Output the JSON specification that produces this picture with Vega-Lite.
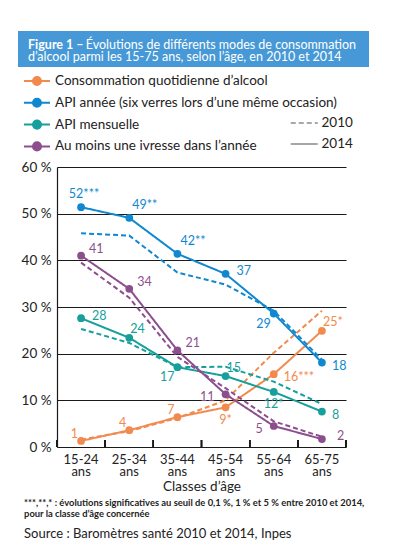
{
  "$schema": "https://vega.github.io/schema/vega-lite/v6.json",
  "background": "white",
  "padding": {"left": 18, "top": 31, "right": 0, "bottom": 0},
  "spacing": 93,
  "config": {
    "font": "Lato",
    "view": {"stroke": null}
  },
  "vconcat": [
    {
      "width": 351,
      "height": 36,
      "view": {"fill": "#4699d6", "stroke": null},
      "data": {"values": []},
      "mark": {"type": "point", "opacity": 0},
      "encoding": {},
      "title": {
        "text": "Figure 1 –",
        "subtitle": [
          "\u200b\u2003\u2003\u2003\u2003\u2003\u2003\u2009Évolutions de différents modes de consommation",
          "d’alcool parmi les 15-75 ans, selon l’âge, en 2010 et 2014"
        ],
        "orient": "top",
        "anchor": "start",
        "frame": "group",
        "offset": -32.5,
        "dx": 10,
        "color": "white",
        "fontSize": 12.5,
        "fontWeight": "bold",
        "subtitleColor": "white",
        "subtitleFontSize": 12.5,
        "subtitleFontWeight": "normal",
        "subtitleLineHeight": 12.5,
        "subtitlePadding": -12.5
      }
    },
    {
      "spacing": 2,
      "hconcat": [
        {
          "width": 1,
          "height": 280,
          "data": {"values": []},
          "mark": {"type": "point", "opacity": 0},
          "encoding": {}
        },
        {
          "width": 289,
          "height": 280,
          "data": {
            "values": [
              {"age": "15-24 ans", "serie": "Consommation quotidienne d’alcool", "annee": "2010", "valeur": 1.6},
              {"age": "25-34 ans", "serie": "Consommation quotidienne d’alcool", "annee": "2010", "valeur": 3.4},
              {"age": "35-44 ans", "serie": "Consommation quotidienne d’alcool", "annee": "2010", "valeur": 6.2},
              {"age": "45-54 ans", "serie": "Consommation quotidienne d’alcool", "annee": "2010", "valeur": 10.0},
              {"age": "55-64 ans", "serie": "Consommation quotidienne d’alcool", "annee": "2010", "valeur": 20.2},
              {"age": "65-75 ans", "serie": "Consommation quotidienne d’alcool", "annee": "2010", "valeur": 29.2},
              {"age": "15-24 ans", "serie": "Consommation quotidienne d’alcool", "annee": "2014", "valeur": 1.3, "label": "1"},
              {"age": "25-34 ans", "serie": "Consommation quotidienne d’alcool", "annee": "2014", "valeur": 3.6, "label": "4"},
              {"age": "35-44 ans", "serie": "Consommation quotidienne d’alcool", "annee": "2014", "valeur": 6.4, "label": "7"},
              {"age": "45-54 ans", "serie": "Consommation quotidienne d’alcool", "annee": "2014", "valeur": 8.5, "label": "9*"},
              {"age": "55-64 ans", "serie": "Consommation quotidienne d’alcool", "annee": "2014", "valeur": 15.6, "label": "16***"},
              {"age": "65-75 ans", "serie": "Consommation quotidienne d’alcool", "annee": "2014", "valeur": 24.9, "label": "25*"},
              {"age": "15-24 ans", "serie": "API année (six verres lors d’une même occasion)", "annee": "2010", "valeur": 45.8},
              {"age": "25-34 ans", "serie": "API année (six verres lors d’une même occasion)", "annee": "2010", "valeur": 45.3},
              {"age": "35-44 ans", "serie": "API année (six verres lors d’une même occasion)", "annee": "2010", "valeur": 37.4},
              {"age": "45-54 ans", "serie": "API année (six verres lors d’une même occasion)", "annee": "2010", "valeur": 34.8},
              {"age": "55-64 ans", "serie": "API année (six verres lors d’une même occasion)", "annee": "2010", "valeur": 29.2},
              {"age": "65-75 ans", "serie": "API année (six verres lors d’une même occasion)", "annee": "2010", "valeur": 18.7},
              {"age": "15-24 ans", "serie": "API année (six verres lors d’une même occasion)", "annee": "2014", "valeur": 51.4, "label": "52***"},
              {"age": "25-34 ans", "serie": "API année (six verres lors d’une même occasion)", "annee": "2014", "valeur": 49.1, "label": "49**"},
              {"age": "35-44 ans", "serie": "API année (six verres lors d’une même occasion)", "annee": "2014", "valeur": 41.4, "label": "42**"},
              {"age": "45-54 ans", "serie": "API année (six verres lors d’une même occasion)", "annee": "2014", "valeur": 37.1, "label": "37"},
              {"age": "55-64 ans", "serie": "API année (six verres lors d’une même occasion)", "annee": "2014", "valeur": 28.6, "label": "29"},
              {"age": "65-75 ans", "serie": "API année (six verres lors d’une même occasion)", "annee": "2014", "valeur": 18.1, "label": "18"},
              {"age": "15-24 ans", "serie": "API mensuelle", "annee": "2010", "valeur": 25.3},
              {"age": "25-34 ans", "serie": "API mensuelle", "annee": "2010", "valeur": 22.3},
              {"age": "35-44 ans", "serie": "API mensuelle", "annee": "2010", "valeur": 17.1},
              {"age": "45-54 ans", "serie": "API mensuelle", "annee": "2010", "valeur": 17.2},
              {"age": "55-64 ans", "serie": "API mensuelle", "annee": "2010", "valeur": 14.0},
              {"age": "65-75 ans", "serie": "API mensuelle", "annee": "2010", "valeur": 9.2},
              {"age": "15-24 ans", "serie": "API mensuelle", "annee": "2014", "valeur": 27.6, "label": "28"},
              {"age": "25-34 ans", "serie": "API mensuelle", "annee": "2014", "valeur": 23.4, "label": "24"},
              {"age": "35-44 ans", "serie": "API mensuelle", "annee": "2014", "valeur": 17.1, "label": "17"},
              {"age": "45-54 ans", "serie": "API mensuelle", "annee": "2014", "valeur": 15.2, "label": "15"},
              {"age": "55-64 ans", "serie": "API mensuelle", "annee": "2014", "valeur": 11.8, "label": "12*"},
              {"age": "65-75 ans", "serie": "API mensuelle", "annee": "2014", "valeur": 7.6, "label": "8"},
              {"age": "15-24 ans", "serie": "Au moins une ivresse dans l’année", "annee": "2010", "valeur": 39.5},
              {"age": "25-34 ans", "serie": "Au moins une ivresse dans l’année", "annee": "2010", "valeur": 32.0},
              {"age": "35-44 ans", "serie": "Au moins une ivresse dans l’année", "annee": "2010", "valeur": 19.3},
              {"age": "45-54 ans", "serie": "Au moins une ivresse dans l’année", "annee": "2010", "valeur": 12.6},
              {"age": "55-64 ans", "serie": "Au moins une ivresse dans l’année", "annee": "2010", "valeur": 5.5},
              {"age": "65-75 ans", "serie": "Au moins une ivresse dans l’année", "annee": "2010", "valeur": 2.2},
              {"age": "15-24 ans", "serie": "Au moins une ivresse dans l’année", "annee": "2014", "valeur": 41.0, "label": "41"},
              {"age": "25-34 ans", "serie": "Au moins une ivresse dans l’année", "annee": "2014", "valeur": 33.9, "label": "34"},
              {"age": "35-44 ans", "serie": "Au moins une ivresse dans l’année", "annee": "2014", "valeur": 20.7, "label": "21"},
              {"age": "45-54 ans", "serie": "Au moins une ivresse dans l’année", "annee": "2014", "valeur": 11.3, "label": "11"},
              {"age": "55-64 ans", "serie": "Au moins une ivresse dans l’année", "annee": "2014", "valeur": 4.5, "label": "5"},
              {"age": "65-75 ans", "serie": "Au moins une ivresse dans l’année", "annee": "2014", "valeur": 1.7, "label": "2"}
            ]
          },
          "title": {
            "text": [
              "***,**,* : évolutions significatives au seuil de 0,1 %, 1 % et 5 % entre 2010 et 2014,",
              "pour la classe d’âge concernée"
            ],
            "subtitle": "Source : Baromètres santé 2010 et 2014, Inpes",
            "orient": "bottom",
            "anchor": "start",
            "frame": "bounds",
            "offset": 6,
            "dx": 3,
            "font": "Lato",
            "fontSize": 9.4,
            "fontWeight": "bold",
            "lineHeight": 10.5,
            "color": "#222222",
            "subtitleFont": "Lato",
            "subtitleFontSize": 13,
            "subtitleColor": "#222222",
            "subtitlePadding": 9
          },
          "encoding": {
            "x": {
              "field": "age",
              "type": "nominal",
              "sort": null,
              "scale": {"type": "band", "paddingInner": 0, "paddingOuter": 0},
              "axis": {
                "title": "Classes d’âge",
                "titleFontSize": 13.5,
                "titleFontWeight": "normal",
                "titleColor": "#222222",
                "titlePadding": 1,
                "labelExpr": "split(datum.label, ' ')",
                "labelAngle": 0,
                "labelFontSize": 13,
                "labelLineHeight": 12.5,
                "labelColor": "#222222",
                "labelPadding": 6,
                "ticks": false,
                "tickSize": 0,
                "domainColor": "#1a1a1a",
                "domainWidth": 1.2,
                "grid": false
              }
            },
            "y": {
              "field": "valeur",
              "type": "quantitative",
              "scale": {"domain": [0, 60], "nice": false},
              "axis": {
                "title": null,
                "values": [0, 10, 20, 30, 40, 50, 60],
                "labelExpr": "datum.value + ' %'",
                "labelFontSize": 13.5,
                "labelColor": "#222222",
                "labelPadding": 6,
                "ticks": false,
                "domainColor": "#1a1a1a",
                "domainWidth": 1.2,
                "grid": true,
                "gridColor": "#1a1a1a",
                "gridWidth": 1.1,
                "gridOpacity": 1
              }
            }
          },
          "layer": [
            {
              "mark": {"type": "rule", "color": "#1a1a1a", "strokeWidth": 1.2},
              "encoding": {
                "x": {"field": "age", "type": "nominal", "sort": null, "bandPosition": 0},
                "y": {"datum": 0},
                "y2": {"datum": 1.5}
              }
            },
            {
              "transform": [{"filter": "datum.age == '65-75 ans'"}],
              "mark": {"type": "rule", "color": "#1a1a1a", "strokeWidth": 1.2},
              "encoding": {
                "x": {"field": "age", "type": "nominal", "sort": null, "bandPosition": 1},
                "y": {"datum": 0},
                "y2": {"datum": 1.5}
              }
            },
            {
              "mark": {"type": "line", "strokeWidth": 2},
              "encoding": {
                "color": {
                  "field": "serie",
                  "type": "nominal",
                  "scale": {
                    "domain": [
                      "Consommation quotidienne d’alcool",
                      "API année (six verres lors d’une même occasion)",
                      "API mensuelle",
                      "Au moins une ivresse dans l’année"
                    ],
                    "range": ["#f28a4e", "#0f88cf", "#17a09b", "#8c4f8d"]
                  },
                  "legend": {
                    "orient": "none",
                    "legendX": 11.5,
                    "legendY": 42.5,
                    "title": null,
                    "padding": 0,
                    "symbolType": "M-2,0H2M-0.62,0A0.62,0.62,0,1,1,0.62,0A0.62,0.62,0,1,1,-0.62,0Z",
                    "symbolSize": 169,
                    "symbolStrokeWidth": 2,
                    "labelFontSize": 13.5,
                    "labelColor": "#222222",
                    "labelLimit": 400,
                    "labelOffset": 10.5,
                    "rowPadding": 4.8,
                    "encode": {
                      "symbols": {
                        "update": {
                          "fill": {"scale": "color", "field": "value"},
                          "stroke": {"scale": "color", "field": "value"}
                        }
                      }
                    }
                  }
                },
                "strokeDash": {
                  "field": "annee",
                  "type": "nominal",
                  "scale": {"domain": ["2010", "2014"], "range": [[5, 3], [1, 0]]},
                  "legend": {
                    "orient": "none",
                    "legendX": 278.75,
                    "legendY": 84.5,
                    "title": null,
                    "padding": 0,
                    "symbolType": "M-2,0H2",
                    "symbolSize": 182,
                    "symbolStrokeColor": "#8a8a8a",
                    "symbolStrokeWidth": 1.5,
                    "labelFontSize": 13.5,
                    "labelColor": "#222222",
                    "labelOffset": 9.75,
                    "rowPadding": 7
                  }
                }
              }
            },
            {
              "transform": [{"filter": "datum.annee == '2014'"}],
              "mark": {"type": "circle", "size": 60, "opacity": 1},
              "encoding": {"color": {"field": "serie", "type": "nominal"}}
            },
            {
              "transform": [{"filter": "indexof(['52***'], datum.label) >= 0"}],
              "mark": {"type": "text", "align": "center", "baseline": "middle", "dx": 3, "dy": -13, "fontSize": 12.5},
              "encoding": {"text": {"field": "label"}, "color": {"field": "serie", "type": "nominal"}}
            },
            {
              "transform": [{"filter": "indexof(['49**', '42**'], datum.label) >= 0"}],
              "mark": {"type": "text", "align": "left", "baseline": "middle", "dx": 3, "dy": -12.5, "fontSize": 12.5},
              "encoding": {"text": {"field": "label"}, "color": {"field": "serie", "type": "nominal"}}
            },
            {
              "transform": [{"filter": "indexof(['41', '34', '21'], datum.label) >= 0"}],
              "mark": {"type": "text", "align": "left", "baseline": "middle", "dx": 8, "dy": -7, "fontSize": 12.5},
              "encoding": {"text": {"field": "label"}, "color": {"field": "serie", "type": "nominal"}}
            },
            {
              "transform": [{"filter": "indexof(['24', '15', '25*'], datum.label) >= 0"}],
              "mark": {"type": "text", "align": "left", "baseline": "middle", "dx": 1, "dy": -8.5, "fontSize": 12.5},
              "encoding": {"text": {"field": "label"}, "color": {"field": "serie", "type": "nominal"}}
            },
            {
              "transform": [{"filter": "indexof(['37', '28'], datum.label) >= 0"}],
              "mark": {"type": "text", "align": "left", "baseline": "middle", "dx": 11, "dy": -2.5, "fontSize": 12.5},
              "encoding": {"text": {"field": "label"}, "color": {"field": "serie", "type": "nominal"}}
            },
            {
              "transform": [{"filter": "indexof(['2'], datum.label) >= 0"}],
              "mark": {"type": "text", "align": "left", "baseline": "middle", "dx": 15, "dy": -3, "fontSize": 12.5},
              "encoding": {"text": {"field": "label"}, "color": {"field": "serie", "type": "nominal"}}
            },
            {
              "transform": [{"filter": "indexof(['18', '8', '16***'], datum.label) >= 0"}],
              "mark": {"type": "text", "align": "left", "baseline": "middle", "dx": 10, "dy": 3, "fontSize": 12.5},
              "encoding": {"text": {"field": "label"}, "color": {"field": "serie", "type": "nominal"}}
            },
            {
              "transform": [{"filter": "indexof(['29', '17'], datum.label) >= 0"}],
              "mark": {"type": "text", "align": "right", "baseline": "middle", "dx": -3, "dy": 10, "fontSize": 12.5},
              "encoding": {"text": {"field": "label"}, "color": {"field": "serie", "type": "nominal"}}
            },
            {
              "transform": [{"filter": "indexof(['9*', '12*'], datum.label) >= 0"}],
              "mark": {"type": "text", "align": "center", "baseline": "middle", "dx": 0, "dy": 12.5, "fontSize": 12.5},
              "encoding": {"text": {"field": "label"}, "color": {"field": "serie", "type": "nominal"}}
            },
            {
              "transform": [{"filter": "indexof(['1', '4', '7'], datum.label) >= 0"}],
              "mark": {"type": "text", "align": "right", "baseline": "middle", "dx": -3, "dy": -7, "fontSize": 12.5},
              "encoding": {"text": {"field": "label"}, "color": {"field": "serie", "type": "nominal"}}
            },
            {
              "transform": [{"filter": "indexof(['11', '5'], datum.label) >= 0"}],
              "mark": {"type": "text", "align": "right", "baseline": "middle", "dx": -11, "dy": 3, "fontSize": 12.5},
              "encoding": {"text": {"field": "label"}, "color": {"field": "serie", "type": "nominal"}}
            }
          ]
        }
      ]
    }
  ]
}
